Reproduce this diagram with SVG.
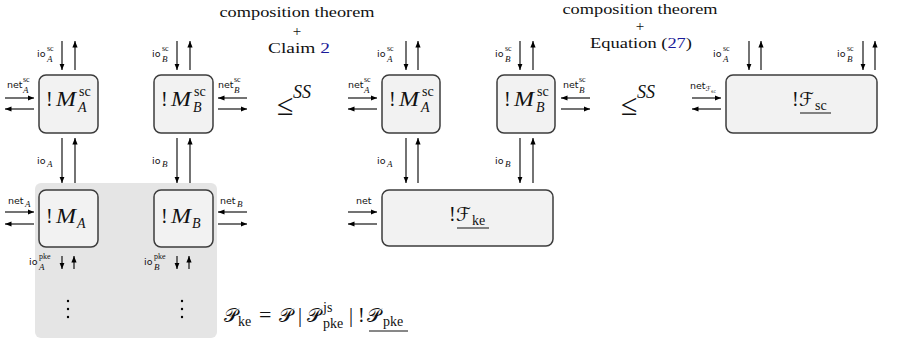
<svg xmlns="http://www.w3.org/2000/svg" width="898" height="340" viewBox="0 0 898 340">
<defs>
<style>
.box{fill:#f2f2f2;stroke:#3c3c3c;stroke-width:1.5}
.bg{fill:#e5e5e5}
.ar{stroke:#000;stroke-width:1.1;fill:none;marker-end:url(#ah)}
.lab{font-family:"DejaVu Sans",sans-serif;font-size:9.5px;fill:#111}
.ss{font-family:"Liberation Serif",serif;font-size:8px;fill:#111}
.si{font-family:"Liberation Serif",serif;font-size:9px;font-style:italic;fill:#111}
.m{font-family:"Liberation Serif",serif;font-size:20px;fill:#111}
.mi{font-family:"Liberation Serif",serif;font-size:20px;font-style:italic;fill:#111}
.cal{font-family:"DejaVu Sans","Noto Sans",serif;font-size:19px;fill:#111}
.ms{font-family:"Liberation Serif",serif;font-size:14px;fill:#111}
.msi{font-family:"Liberation Serif",serif;font-size:14px;font-style:italic;fill:#111}
.t{font-family:"Liberation Serif",serif;font-size:15px;fill:#111;text-anchor:middle}
.plus{font-family:"Liberation Serif",serif;font-size:15px;fill:#111;text-anchor:middle}
.le{font-family:"Liberation Serif",serif;font-size:30px;fill:#111}
.ssup{font-family:"Liberation Serif",serif;font-size:18px;font-style:italic;fill:#111}
.eq{font-family:"Liberation Serif",serif;font-size:22px;fill:#111}
.ref{fill:#1a1a99}
.ul{stroke:#111;stroke-width:1}
</style>
<marker id="ah" viewBox="0 0 10 10" refX="10" refY="5" markerWidth="6.5" markerHeight="6.5" markerUnits="userSpaceOnUse" orient="auto"><path d="M0,1 L10,5 L0,9 z" fill="#000"/></marker>
</defs>
<rect class="bg" x="35" y="183" width="182" height="155" rx="6"/>
<g id="connectors">
<line class="ar" x1="62" y1="41" x2="62" y2="70"/><line class="ar" x1="75" y1="70" x2="75" y2="41"/>
<line class="ar" x1="177" y1="41" x2="177" y2="70"/><line class="ar" x1="190" y1="70" x2="190" y2="41"/>
<line class="ar" x1="5" y1="98" x2="34" y2="98"/><line class="ar" x1="34" y1="109" x2="5" y2="109"/>
<line class="ar" x1="247" y1="98" x2="218" y2="98"/><line class="ar" x1="218" y1="109" x2="247" y2="109"/>
<line class="ar" x1="62" y1="138" x2="62" y2="183"/><line class="ar" x1="75" y1="183" x2="75" y2="138"/>
<line class="ar" x1="177" y1="138" x2="177" y2="183"/><line class="ar" x1="190" y1="183" x2="190" y2="138"/>
<line class="ar" x1="5" y1="212" x2="34" y2="212"/><line class="ar" x1="34" y1="224" x2="5" y2="224"/>
<line class="ar" x1="247" y1="212" x2="218" y2="212"/><line class="ar" x1="218" y1="224" x2="247" y2="224"/>
<line class="ar" x1="62" y1="256" x2="62" y2="269"/><line class="ar" x1="74" y1="269" x2="74" y2="256"/>
<line class="ar" x1="177" y1="256" x2="177" y2="269"/><line class="ar" x1="189" y1="269" x2="189" y2="256"/>
<line class="ar" x1="406" y1="41" x2="406" y2="70"/><line class="ar" x1="418" y1="70" x2="418" y2="41"/>
<line class="ar" x1="520" y1="41" x2="520" y2="70"/><line class="ar" x1="533" y1="70" x2="533" y2="41"/>
<line class="ar" x1="348" y1="98" x2="377" y2="98"/><line class="ar" x1="377" y1="109" x2="348" y2="109"/>
<line class="ar" x1="590" y1="98" x2="561" y2="98"/><line class="ar" x1="561" y1="109" x2="590" y2="109"/>
<line class="ar" x1="406" y1="138" x2="406" y2="183"/><line class="ar" x1="418" y1="183" x2="418" y2="138"/>
<line class="ar" x1="520" y1="138" x2="520" y2="183"/><line class="ar" x1="533" y1="183" x2="533" y2="138"/>
<line class="ar" x1="348" y1="212" x2="377" y2="212"/><line class="ar" x1="377" y1="224" x2="348" y2="224"/>
<line class="ar" x1="692" y1="98" x2="721" y2="98"/><line class="ar" x1="721" y1="109" x2="692" y2="109"/>
<line class="ar" x1="749" y1="41" x2="749" y2="70"/><line class="ar" x1="761" y1="70" x2="761" y2="41"/>
<line class="ar" x1="863" y1="41" x2="863" y2="70"/><line class="ar" x1="875" y1="70" x2="875" y2="41"/>
</g>
<g id="labels">
<text class="lab" x="37" y="57">io</text><text class="ss" x="47" y="51">sc</text><text class="si" x="47" y="62">A</text>
<text class="lab" x="152" y="57">io</text><text class="ss" x="162" y="51">sc</text><text class="si" x="162" y="62">B</text>
<text class="lab" x="7" y="88">net</text><text class="ss" x="23" y="82">sc</text><text class="si" x="23" y="93">A</text>
<text class="lab" x="218" y="88">net</text><text class="ss" x="234" y="82">sc</text><text class="si" x="234" y="93">B</text>
<text class="lab" x="37" y="164">io</text><text class="si" x="47" y="167">A</text>
<text class="lab" x="152" y="164">io</text><text class="si" x="162" y="167">B</text>
<text class="lab" x="8" y="204">net</text><text class="si" x="25" y="207">A</text>
<text class="lab" x="220" y="204">net</text><text class="si" x="237" y="207">B</text>
<text class="lab" x="29" y="265">io</text><text class="ss" x="39" y="259">pke</text><text class="si" x="39" y="270">A</text>
<text class="lab" x="144" y="265">io</text><text class="ss" x="154" y="259">pke</text><text class="si" x="154" y="270">B</text>
<text class="lab" x="377" y="57">io</text><text class="ss" x="387" y="51">sc</text><text class="si" x="387" y="62">A</text>
<text class="lab" x="495" y="57">io</text><text class="ss" x="505" y="51">sc</text><text class="si" x="505" y="62">B</text>
<text class="lab" x="348" y="88">net</text><text class="ss" x="364" y="82">sc</text><text class="si" x="364" y="93">A</text>
<text class="lab" x="563" y="88">net</text><text class="ss" x="579" y="82">sc</text><text class="si" x="579" y="93">B</text>
<text class="lab" x="377" y="164">io</text><text class="si" x="387" y="167">A</text>
<text class="lab" x="495" y="164">io</text><text class="si" x="505" y="167">B</text>
<text class="lab" x="356" y="204">net</text>
<text class="lab" x="690" y="89">net<tspan style="font-size:7px" dy="2">ℱ<tspan style="font-size:4.5px" dy="1.5">sc</tspan></tspan></text>
<text class="lab" x="713" y="57">io</text><text class="ss" x="723" y="51">sc</text><text class="si" x="723" y="62">A</text>
<text class="lab" x="837" y="57">io</text><text class="ss" x="847" y="51">sc</text><text class="si" x="847" y="62">B</text>
</g>
<g id="node-MAsc"><rect class="box" x="39" y="75" width="59" height="58" rx="7"/>
<text class="m" x="46" y="106">!</text><text class="mi" x="56" y="106" textLength="20" lengthAdjust="spacingAndGlyphs">M</text><text class="ms" x="79" y="96">sc</text><text class="msi" x="78" y="112">A</text></g>
<g id="node-MBsc"><rect class="box" x="154" y="75" width="59" height="58" rx="7"/>
<text class="m" x="161" y="106">!</text><text class="mi" x="171" y="106" textLength="20" lengthAdjust="spacingAndGlyphs">M</text><text class="ms" x="194" y="96">sc</text><text class="msi" x="193" y="112">B</text></g>
<g id="node-MA"><rect class="box" x="39" y="190" width="59" height="57" rx="7"/>
<text class="m" x="46" y="223">!</text><text class="mi" x="56" y="223" textLength="20" lengthAdjust="spacingAndGlyphs">M</text><text class="msi" x="77" y="228">A</text></g>
<g id="node-MB"><rect class="box" x="154" y="190" width="59" height="57" rx="7"/>
<text class="m" x="161" y="223">!</text><text class="mi" x="171" y="223" textLength="20" lengthAdjust="spacingAndGlyphs">M</text><text class="msi" x="192" y="228">B</text></g>
<g id="dots">
<circle cx="68" cy="301" r="1.2"/><circle cx="68" cy="309" r="1.2"/><circle cx="68" cy="317" r="1.2"/>
<circle cx="182" cy="301" r="1.2"/><circle cx="182" cy="309" r="1.2"/><circle cx="182" cy="317" r="1.2"/>
</g>
<g id="formula">
<text class="cal" x="224" y="322" textLength="14" lengthAdjust="spacingAndGlyphs">𝒫</text><text class="ms" x="238" y="326">ke</text>
<text class="eq" x="259" y="322">=</text>
<text class="cal" x="279" y="322" textLength="14" lengthAdjust="spacingAndGlyphs">𝒫</text>
<text class="m" x="298" y="322">|</text>
<text class="cal" x="307" y="322" textLength="14" lengthAdjust="spacingAndGlyphs">𝒫</text><text class="ms" x="323" y="312">js</text><text class="ms" x="323" y="328">pke</text>
<text class="m" x="349" y="322">|</text>
<text class="m" x="358" y="322">!</text>
<text class="cal" x="367" y="322" textLength="14" lengthAdjust="spacingAndGlyphs">𝒫</text><text class="ms" x="383" y="326">pke</text>
<line class="ul" x1="369" y1="331" x2="408" y2="331"/>
</g>
<g id="rel1">
<text class="t" x="297" y="17" textLength="155" lengthAdjust="spacingAndGlyphs">composition theorem</text>
<text class="plus" x="297" y="36">+</text>
<text class="t" x="299" y="53" textLength="62" lengthAdjust="spacingAndGlyphs">Claim <tspan class="ref">2</tspan></text>
<text class="le" x="277" y="115">≤</text><text class="ssup" x="293" y="98">SS</text>
</g>
<g id="node-MAsc2"><rect class="box" x="382" y="75" width="58" height="58" rx="7"/>
<text class="m" x="389" y="106">!</text><text class="mi" x="399" y="106" textLength="20" lengthAdjust="spacingAndGlyphs">M</text><text class="ms" x="422" y="96">sc</text><text class="msi" x="421" y="112">A</text></g>
<g id="node-MBsc2"><rect class="box" x="497" y="75" width="58" height="58" rx="7"/>
<text class="m" x="504" y="106">!</text><text class="mi" x="514" y="106" textLength="20" lengthAdjust="spacingAndGlyphs">M</text><text class="ms" x="537" y="96">sc</text><text class="msi" x="536" y="112">B</text></g>
<g id="node-Fke"><rect class="box" x="382" y="190" width="171" height="56" rx="7"/>
<text class="m" x="449" y="221">!</text><text class="cal" x="456" y="221" textLength="15" lengthAdjust="spacingAndGlyphs">ℱ</text><text class="ms" x="472" y="225">ke</text>
<line class="ul" x1="457" y1="228" x2="489" y2="228"/></g>
<g id="rel2">
<text class="t" x="640" y="14" textLength="155" lengthAdjust="spacingAndGlyphs">composition theorem</text>
<text class="plus" x="640" y="31">+</text>
<text class="t" x="641" y="48" textLength="102" lengthAdjust="spacingAndGlyphs">Equation (<tspan class="ref">27</tspan>)</text>
<text class="le" x="621" y="115">≤</text><text class="ssup" x="637" y="98">SS</text>
</g>
<g id="node-Fsc"><rect class="box" x="726" y="75" width="151" height="58" rx="7"/>
<text class="m" x="792" y="106">!</text><text class="cal" x="799" y="106" textLength="15" lengthAdjust="spacingAndGlyphs">ℱ</text><text class="ms" x="815" y="110">sc</text>
<line class="ul" x1="800" y1="113" x2="831" y2="113"/></g>
</svg>
